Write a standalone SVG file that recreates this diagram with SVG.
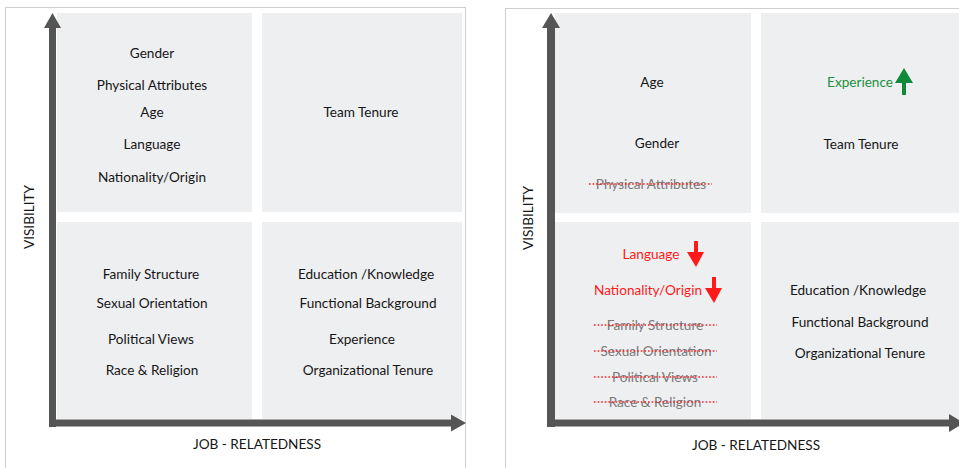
<svg xmlns="http://www.w3.org/2000/svg" width="959" height="468" viewBox="0 0 959 468">
  <style>
    .frame { fill: #ffffff; stroke: #cfcfcf; stroke-width: 1; }
    .quad { fill: #eeeff1; }
    .axis { fill: #555555; }
    text { font-family: "Lato", "Noto Sans", "Liberation Sans", sans-serif; font-size: 13.6px; text-anchor: middle; dominant-baseline: central; fill: #161616; }
    .down { fill: #ff1a1a; }
    .up { fill: #12883a; }
    .red { fill: #ff1a1a; }
    .green { fill: #1a8f40; }
    .gone { fill: #7a7a7a; }
    .strike { stroke: #ff2020; stroke-width: 1.7; stroke-dasharray: 1.6 2; }
  </style>

  <rect width="959" height="468" fill="#ffffff"/>

  <!-- Left chart: before -->
  <g id="chart-before">
    <rect class="frame" x="5.5" y="7.5" width="460" height="470"/>
    <g id="before-high-low">
      <rect class="quad" x="57" y="13" width="195" height="199"/>
      <text x="152" y="53">Gender</text>
      <text x="152" y="85">Physical Attributes</text>
      <text x="152" y="112">Age</text>
      <text x="152" y="144">Language</text>
      <text x="152" y="177">Nationality/Origin</text>
    </g>
    <g id="before-high-high">
      <rect class="quad" x="262" y="13" width="200" height="199"/>
      <text x="361" y="112">Team Tenure</text>
    </g>
    <g id="before-low-low">
      <rect class="quad" x="57" y="222" width="195" height="197"/>
      <text x="151" y="274">Family Structure</text>
      <text x="152" y="303">Sexual Orientation</text>
      <text x="151" y="339">Political Views</text>
      <text x="152" y="370">Race &amp; Religion</text>
    </g>
    <g id="before-low-high">
      <rect class="quad" x="262" y="222" width="200" height="197"/>
      <text x="366" y="274">Education /Knowledge</text>
      <text x="368" y="303">Functional Background</text>
      <text x="362" y="339">Experience</text>
      <text x="368" y="370">Organizational Tenure</text>
    </g>
    <g id="before-axes">
      <rect class="axis" x="49" y="27" width="7" height="400"/>
      <polygon class="axis" points="52.5,13 61,28 44,28"/>
      <rect class="axis" x="49" y="419.5" width="404" height="7"/>
      <polygon class="axis" points="466,423 451,414.5 451,431.5"/>
      <text transform="translate(29 217) rotate(-90)">VISIBILITY</text>
      <text x="257" y="444">JOB - RELATEDNESS</text>
    </g>
  </g>

  <!-- Right chart: after -->
  <g id="chart-after">
    <rect class="frame" x="505.5" y="8.5" width="470" height="470"/>
    <g id="after-high-low">
      <rect class="quad" x="555" y="13" width="196" height="200"/>
      <text x="652" y="82">Age</text>
      <text x="657" y="143">Gender</text>
      <text class="gone" x="651" y="184">Physical Attributes</text>
      <line class="strike" x1="589" y1="184" x2="712" y2="184"/>
    </g>
    <g id="after-high-high">
      <rect class="quad" x="761" y="13" width="200" height="200"/>
      <text class="green" x="860" y="82">Experience</text>
      <polygon class="up" points="904,68 913,83 906,83 906,95 902,95 902,83 895,83"/>
      <text x="861" y="144">Team Tenure</text>
    </g>
    <g id="after-low-low">
      <rect class="quad" x="555" y="222" width="196" height="197"/>
      <text class="red" x="651" y="254">Language</text>
      <polygon class="down" points="696,267 704,252 698,252 698,241 694,241 694,252 687,252"/>
      <text class="red" x="648" y="290">Nationality/Origin</text>
      <polygon class="down" points="714,303 722,288 716,288 716,277 712,277 712,288 705,288"/>
      <text class="gone" x="655" y="325">Family Structure</text>
      <line class="strike" x1="594" y1="325" x2="717" y2="325"/>
      <text class="gone" x="656" y="351">Sexual Orientation</text>
      <line class="strike" x1="594" y1="351" x2="717" y2="351"/>
      <text class="gone" x="655" y="377">Political Views</text>
      <line class="strike" x1="594" y1="377" x2="717" y2="377"/>
      <text class="gone" x="655" y="402">Race &amp; Religion</text>
      <line class="strike" x1="594" y1="402" x2="717" y2="402"/>
    </g>
    <g id="after-low-high">
      <rect class="quad" x="761" y="222" width="200" height="197"/>
      <text x="858" y="290">Education /Knowledge</text>
      <text x="860" y="322">Functional Background</text>
      <text x="860" y="353">Organizational Tenure</text>
    </g>
    <g id="after-axes">
      <rect class="axis" x="547" y="27" width="8" height="400"/>
      <polygon class="axis" points="551,13 560,28 542,28"/>
      <rect class="axis" x="547" y="419.5" width="404" height="7"/>
      <polygon class="axis" points="964,423 949,414 949,432"/>
      <text transform="translate(528 218) rotate(-90)">VISIBILITY</text>
      <text x="756" y="445">JOB - RELATEDNESS</text>
    </g>
  </g>
</svg>
